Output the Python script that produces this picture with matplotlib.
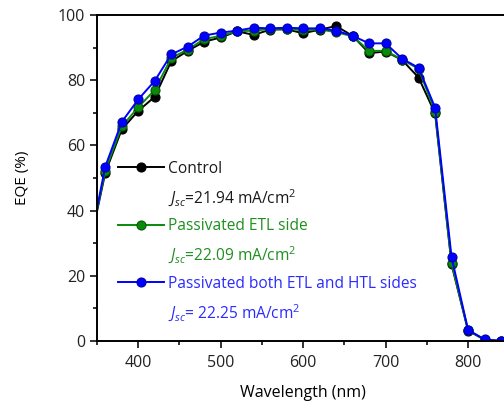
import numpy as np
import matplotlib
import matplotlib.pyplot as plt
from matplotlib.lines import Line2D
from matplotlib.ticker import MultipleLocator

matplotlib.rcParams['font.family'] = 'Open Sans'
matplotlib.rcParams['mathtext.fontset'] = 'custom'
matplotlib.rcParams['mathtext.rm'] = 'Open Sans'
matplotlib.rcParams['mathtext.it'] = 'Open Sans:italic'

# wavelength (nm) and EQE (%)
wavelength = [340, 360, 380, 400, 420, 440, 460, 480, 500, 520, 540, 560, 580, 600,
              620, 640, 660, 680, 700, 720, 740, 760, 780, 800, 820, 840]
eqe_control = [28, 51.6, 64.9, 70.6, 74.9, 85.8, 89.0, 91.8, 93.1, 95.0, 93.9, 95.5, 95.6, 94.4,
               95.5, 96.6, 93.6, 88.3, 88.8, 86.2, 80.8, 69.8, 23.5, 3.2, 0.4, 0]
eqe_etl = [28, 52.3, 65.8, 71.7, 77.0, 86.8, 89.4, 92.6, 93.6, 95.0, 95.2, 95.7, 95.8, 95.3,
           95.6, 94.7, 93.5, 89.0, 89.0, 86.3, 83.5, 70.3, 23.8, 3.3, 0.4, 0]
eqe_both = [28, 53.5, 67.2, 74.1, 79.8, 87.9, 90.3, 93.7, 94.6, 95.2, 96.1, 95.9, 96.1, 95.9,
            95.9, 95.2, 93.6, 91.3, 91.3, 86.6, 83.8, 71.6, 25.7, 3.4, 0.5, 0]

labels = ['Control', 'Passivated ETL side', 'Passivated both ETL and HTL sides']
jsc = [r'$J_{sc}$=21.94 mA/cm$^2$', r'$J_{sc}$=22.09 mA/cm$^2$', r'$J_{sc}$= 22.25 mA/cm$^2$']
colors = ['black', '#0a8a0a', '#0000ff']
text_colors = ['#1a1a1a', '#1f8f1f', '#2b2bff']
edge_colors = ['#000000', '#055a05', '#0000b0']

fig = plt.figure(figsize=(5.04, 4.03), dpi=100)
ax = fig.add_axes([0.1925, 0.1538, 0.818, 0.809])

handles = []
for y, c, ec, lab in zip([eqe_control, eqe_etl, eqe_both], colors, edge_colors, labels):
    h, = ax.plot(wavelength, y, '-o', color=c, lw=1.4, ms=6.5, mec=ec, mew=0.8, label=lab)
    handles.append(h)

ax.set_xlim(350, 850)
ax.set_ylim(0, 100)
ax.xaxis.set_major_locator(MultipleLocator(100))
ax.xaxis.set_minor_locator(MultipleLocator(50))
ax.yaxis.set_major_locator(MultipleLocator(20))
ax.yaxis.set_minor_locator(MultipleLocator(10))
ax.tick_params(which='both', direction='out', width=1.3, labelsize=11.5, colors='#222222')
ax.tick_params(which='major', length=5)
ax.tick_params(which='minor', length=3)
ax.tick_params(axis='x', pad=5)
for s in ax.spines.values():
    s.set_linewidth(1.4)
ax.set_xlabel('Wavelength (nm)', fontsize=11.5, labelpad=10)
ax.set_ylabel('EQE (%)', fontsize=11, labelpad=20)

blank = Line2D([], [], linestyle='none')
leg_handles = [handles[0], blank, handles[1], blank, handles[2], blank]
leg_labels = [labels[0], jsc[0], labels[1], jsc[1], labels[2], jsc[2]]
leg_colors = [text_colors[0], text_colors[0], text_colors[1], text_colors[1],
              text_colors[2], text_colors[2]]
ax.legend(leg_handles, leg_labels, loc='upper left', bbox_to_anchor=(0.05, 0.553),
          frameon=False, fontsize=11.2, handlelength=3.0, handletextpad=0.25,
          labelspacing=0.66, borderpad=0, borderaxespad=0, labelcolor=leg_colors)

fig.savefig('out.png', dpi=100)
